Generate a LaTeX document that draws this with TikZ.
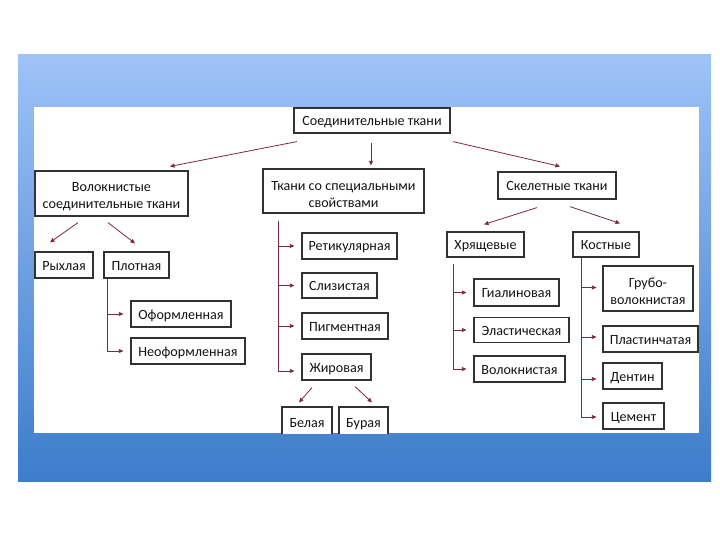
\documentclass[tikz,border=0pt]{standalone}
\usepackage{fontspec}
\setmainfont{Carlito}
\usetikzlibrary{arrows.meta,calc}
\definecolor{frametop}{RGB}{158,195,247}
\definecolor{framebot}{RGB}{61,125,203}
\definecolor{conncol}{RGB}{128,40,62}
\definecolor{boxcol}{RGB}{50,50,50}
\newcommand{\firstup}{\rule{0pt}{16pt}}
\tikzset{
  box/.style={draw=boxcol, line width=1.2pt, fill=white, inner sep=0pt,
    font=\fontsize{14.1}{17}\selectfont, align=center, text=black!92},
  one/.style={box, text height=10pt, text depth=0pt},
  conn/.style={draw=conncol, line width=0.8pt,
    -{Triangle[length=4.5pt,width=4pt]}},
}
\begin{document}
\begin{tikzpicture}[x=1pt,y=-1pt]
\useasboundingbox (0,0) rectangle (720,540);
\fill[white] (0,0) rectangle (720,540);
\shade[top color=frametop, bottom color=framebot] (18,55) rectangle (711,481);
\fill[white] (34,107) rectangle (699,433);

\begin{scope}
\clip (0,0) rectangle (720,433);
% level 0
\node[one, minimum width=156, minimum height=25] (top) at (372,120.5) {Соединительные ткани};
% level 1
\node[box, minimum width=153, minimum height=45] (fib) at (111.5,193.5) {\firstup Волокнистые\\соединительные ткани};
\node[box, minimum width=161, minimum height=44] (spec) at (343.5,191) {\firstup Ткани со специальными\\свойствами};
\node[one, minimum width=118, minimum height=27] (skel) at (557,185.5) {Скелетные ткани};
% fibrous
\node[one, minimum width=58, minimum height=26] (rykh) at (64,265) {Рыхлая};
\node[one, minimum width=65, minimum height=26] (plot) at (136.5,265) {Плотная};
\node[one, minimum width=100, minimum height=26] (ofor) at (181,314) {Оформленная};
\node[one, minimum width=114, minimum height=26] (neof) at (188,351) {Неоформленная};
% special
\node[one, minimum width=95, minimum height=26] (retik) at (349.5,246) {Ретикулярная};
\node[one, minimum width=75, minimum height=25] (sliz) at (339.5,285.5) {Слизистая};
\node[one, minimum width=86, minimum height=26] (pigm) at (345,326) {Пигментная};
\node[one, minimum width=69, minimum height=26] (zhir) at (336.5,367) {Жировая};
\node[one, minimum width=50, minimum height=30] (bel) at (307,422) {Белая};
\node[one, minimum width=49, minimum height=30] (bur) at (363.5,422) {Бурая};
% skeletal
\node[one, minimum width=77, minimum height=25] (khr) at (485.5,244.5) {Хрящевые};
\node[one, minimum width=66, minimum height=25] (kost) at (606,244.5) {Костные};
\node[one, minimum width=85, minimum height=27] (gial) at (516.5,292.5) {Гиалиновая};
\node[one, minimum width=95, minimum height=25] (elast) at (521.5,330) {Эластическая};
\node[one, minimum width=91, minimum height=26] (volok) at (519.5,369) {Волокнистая};
\node[box, minimum width=90, minimum height=45] (grub) at (648,288.5) {\firstup Грубо-\\волокнистая};
\node[one, minimum width=95, minimum height=26] (plast) at (650.5,339) {Пластинчатая};
\node[one, minimum width=59, minimum height=26] (dent) at (632.5,376) {Дентин};
\node[one, minimum width=61, minimum height=26] (cem) at (633.5,416) {Цемент};

% connectors from top
\draw[conn] ($(top.south)+(-75,8)$) -- ($(fib.north)+(58.5,-4)$);
\draw[conn] ($(top.south)+(-1,9)$) -- ($(spec.north)+(27.5,-3)$);
\draw[conn] ($(top.south)+(81,8)$) -- ($(skel.north)+(3,-5)$);
% fibrous
\draw[conn] ($(fib.south)+(-33.5,6)$) -- ($(rykh.north)+(-14,-9)$);
\draw[conn] ($(fib.south)+(-3.5,6)$) -- ($(plot.north)+(-1.5,-8)$);
\draw[conn] ($(plot.south west)+(4,0)$) |- ($(ofor.west)+(-7,0)$);
\draw[conn] ($(plot.south west)+(4,0)$) |- ($(neof.west)+(-7,0)$);
% special
\draw[conn] ($(spec.south west)+(16,7)$) |- ($(retik.west)+(-7,0)$);
\draw[conn] ($(spec.south west)+(16,7)$) |- ($(sliz.west)+(-7,0)$);
\draw[conn] ($(spec.south west)+(16,7)$) |- ($(pigm.west)+(-7,0)$);
\draw[conn] ($(spec.south west)+(16,7)$) |- ($(zhir.west)+(-7,4)$);
\draw[conn] ($(zhir.south)+(-24.5,7)$) -- ($(bel.north)+(-8,-4)$);
\draw[conn] ($(zhir.south)+(18.5,6)$) -- ($(bur.north)+(8.5,-4)$);
% skeletal
\draw[conn] ($(skel.south)+(-20,8)$) -- ($(khr.north)+(-1.5,-7)$);
\draw[conn] ($(skel.south)+(13,7)$) -- ($(kost.north)+(14,-8)$);
\draw[conn] ($(khr.south west)+(7,6)$) |- ($(gial.west)+(-7,0)$);
\draw[conn] ($(khr.south west)+(7,6)$) |- ($(elast.west)+(-7,0)$);
\draw[conn] ($(khr.south west)+(7,6)$) |- ($(volok.west)+(-7,0)$);
\draw[conn] ($(kost.south west)+(9,0)$) |- ($(grub.west)+(-6,-1)$);
\draw[conn] ($(kost.south west)+(9,0)$) |- ($(plast.west)+(-6,-2)$);
\draw[conn] ($(kost.south west)+(9,0)$) |- ($(dent.west)+(-6,3)$);
\draw[conn] ($(kost.south west)+(9,0)$) |- ($(cem.west)+(-6,1)$);
\end{scope}
\end{tikzpicture}
\end{document}
